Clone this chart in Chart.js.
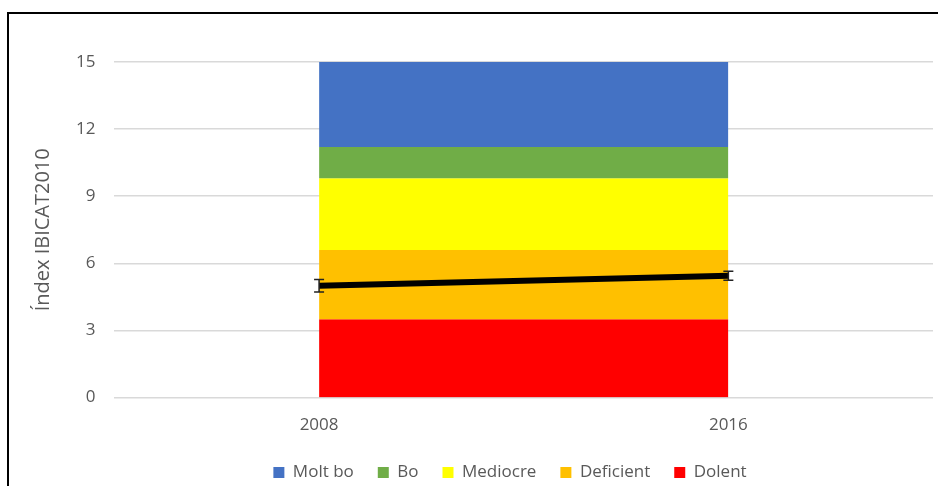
<!DOCTYPE html>
<html>
<head>
<meta charset="utf-8">
<script src="https://cdn.jsdelivr.net/npm/chart.js@4"></script>
<style>
  html, body { margin: 0; padding: 0; background: #fff; }
  #wrap { position: relative; width: 938px; height: 486px; overflow: hidden; }
  #frame { position: absolute; left: 7px; top: 12px; right: -10px; bottom: -10px;
           border-left: 2px solid #000; border-top: 2px solid #000; }
  #chart { position: absolute; left: 0; top: 0; }
</style>
</head>
<body>
<div id="wrap">
  <div id="frame"></div>
  <canvas id="chart" width="938" height="486"></canvas>
</div>
<script>
// Years on the x axis
const years = ['2008', '2016'];

// Quality classes (legend order) with the upper limit of each band
const classNames = ['Molt bo', 'Bo', 'Mediocre', 'Deficient', 'Dolent'];
const classUpper = [15, 11.2, 9.8, 6.6, 3.5];
const classColors = ['#4472C4', '#70AD47', '#FFFF00', '#FFC000', '#FF0000'];

// Mean index per year and its error
const indexMean = [5.0, 5.45];
const indexErr = [0.28, 0.2];

const textColor = '#595959';
const fontFamily = "'Open Sans', sans-serif";

const datasets = classNames.map((name, i) => ({
    label: name,
    data: years.map(() => classUpper[i]),
    backgroundColor: classColors[i],
    borderColor: classColors[i],
    borderWidth: 0,
    pointRadius: 0,
    fill: i === classNames.length - 1 ? 'origin' : '+1',
    order: 2
}));

datasets.push({
    label: 'IBICAT2010',
    data: indexMean,
    borderColor: '#000',
    backgroundColor: '#000',
    borderWidth: 6,
    pointRadius: 0,
    fill: false,
    order: 0
});

// draws the error bars on the black line
const errorBars = {
    id: 'errorBars',
    afterDatasetsDraw(chart) {
        const ctx = chart.ctx;
        const xs = chart.scales.x, ys = chart.scales.y;
        ctx.save();
        ctx.strokeStyle = '#222';
        ctx.lineWidth = 1.5;
        indexMean.forEach((m, i) => {
            const x = xs.getPixelForValue(i);
            const top = ys.getPixelForValue(m + indexErr[i]);
            const bot = ys.getPixelForValue(m - indexErr[i]);
            ctx.beginPath();
            ctx.moveTo(x, top); ctx.lineTo(x, bot);
            ctx.moveTo(x - 5, top); ctx.lineTo(x + 5, top);
            ctx.moveTo(x - 5, bot); ctx.lineTo(x + 5, bot);
            ctx.stroke();
        });
        ctx.restore();
    }
};

// legend in the original sits a bit right of the canvas centre
const legendShift = {
    id: 'legendShift',
    afterLayout(chart) {
        chart.legend.left += 30;
        chart.legend.right += 30;
    }
};

new Chart(document.getElementById('chart'), {
    type: 'line',
    data: { labels: years, datasets: datasets },
    plugins: [errorBars, legendShift],
    options: {
        responsive: false,
        animation: false,
        layout: { padding: { top: 62, right: 5, left: 27, bottom: -5 } },
        plugins: {
            legend: {
                position: 'bottom',
                labels: {
                    filter: (item) => item.datasetIndex < classNames.length,
                    boxWidth: 11,
                    boxHeight: 11,
                    padding: 24,
                    color: textColor,
                    font: { family: fontFamily, size: 17 }
                }
            },
            tooltip: { enabled: false }
        },
        scales: {
            x: {
                offset: true,
                grid: { display: false },
                border: { display: false },
                ticks: { color: textColor, padding: 9, font: { family: fontFamily, size: 17 } },
                afterFit: (scale) => { scale.height -= 4; }
            },
            y: {
                min: 0,
                max: 15,
                grid: { color: '#D9D9D9', lineWidth: 1.5, drawTicks: false },
                border: { display: false },
                ticks: { stepSize: 3, color: textColor, padding: 19, font: { family: fontFamily, size: 17 } },
                title: {
                    display: true,
                    text: 'Índex IBICAT2010',
                    color: textColor,
                    padding: { bottom: 2 },
                    font: { family: fontFamily, size: 20 }
                }
            }
        }
    }
});
</script>
</body>
</html>
